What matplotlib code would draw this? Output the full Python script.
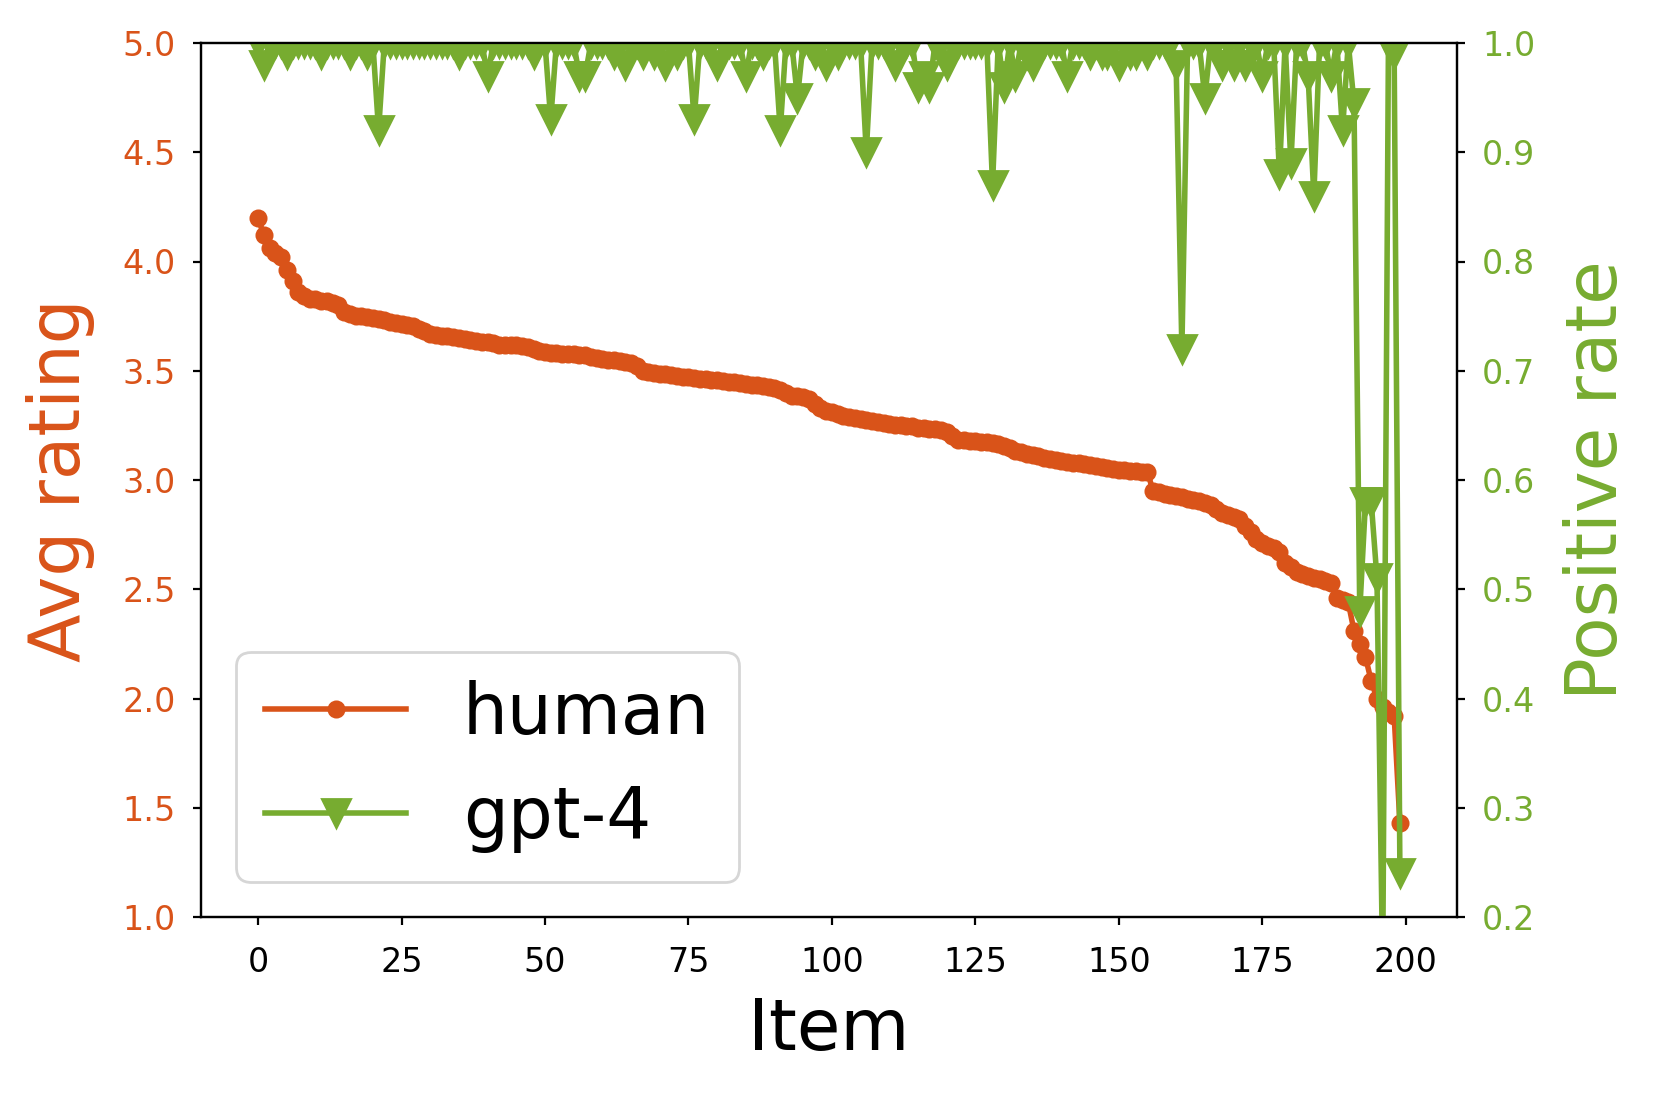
import matplotlib
matplotlib.use("Agg")
import matplotlib.pyplot as plt
import numpy as np

# ---- data ----
human = [
    4.20, 4.12, 4.06, 4.04, 4.02, 3.96, 3.91, 3.86, 3.84, 3.83,
    3.83, 3.82, 3.82, 3.81, 3.80, 3.77, 3.76, 3.75, 3.75, 3.745,
    3.74, 3.735, 3.73, 3.725, 3.72, 3.715, 3.71, 3.705, 3.69, 3.68,
    3.67, 3.665, 3.66, 3.66, 3.655, 3.65, 3.645, 3.64, 3.635, 3.63,
    3.63, 3.625, 3.62, 3.62, 3.62, 3.62, 3.615, 3.61, 3.60, 3.59,
    3.585, 3.58, 3.58, 3.578, 3.576, 3.575, 3.574, 3.57, 3.565, 3.56,
    3.555, 3.55, 3.548, 3.545, 3.54, 3.535, 3.52, 3.50, 3.495, 3.49,
    3.487, 3.485, 3.48, 3.477, 3.473, 3.47, 3.467, 3.464, 3.461, 3.459,
    3.456, 3.453, 3.45, 3.447, 3.445, 3.44, 3.437, 3.433, 3.43, 3.425,
    3.42, 3.41, 3.40, 3.385, 3.383, 3.38, 3.37, 3.35, 3.33, 3.315,
    3.31, 3.30, 3.295, 3.29, 3.285, 3.28, 3.275, 3.27, 3.265, 3.26,
    3.255, 3.252, 3.25, 3.248, 3.245, 3.24, 3.237, 3.235, 3.233, 3.23,
    3.22, 3.20, 3.185, 3.182, 3.18, 3.178, 3.176, 3.174, 3.17, 3.165,
    3.155, 3.145, 3.135, 3.13, 3.12, 3.115, 3.11, 3.10, 3.095, 3.09,
    3.085, 3.082, 3.08, 3.078, 3.075, 3.07, 3.065, 3.06, 3.055, 3.05,
    3.047, 3.044, 3.041, 3.04, 3.038, 3.035, 2.95, 2.945, 2.935, 2.93,
    2.925, 2.92, 2.915, 2.91, 2.905, 2.895, 2.885, 2.865, 2.85, 2.84,
    2.83, 2.82, 2.79, 2.76, 2.73, 2.71, 2.70, 2.69, 2.67, 2.62,
    2.60, 2.58, 2.57, 2.56, 2.55, 2.545, 2.54, 2.53, 2.46, 2.45,
    2.44, 2.31, 2.25, 2.19, 2.08, 2.00, 1.96, 1.94, 1.92, 1.43,
]

gpt4 = [
    1.00, 0.98, 1.00, 1.00, 1.00, 0.99, 1.00, 1.00, 1.00, 1.00,
    1.00, 0.99, 1.00, 1.00, 1.00, 1.00, 0.99, 1.00, 1.00, 0.99,
    1.00, 0.92, 1.00, 1.00, 1.00, 1.00, 1.00, 1.00, 1.00, 1.00,
    1.00, 1.00, 1.00, 1.00, 1.00, 0.99, 1.00, 1.00, 1.00, 1.00,
    0.97, 1.00, 1.00, 1.00, 1.00, 1.00, 1.00, 1.00, 0.99, 1.00,
    1.00, 0.93, 1.00, 1.00, 1.00, 1.00, 0.97, 0.97, 1.00, 1.00,
    1.00, 1.00, 0.99, 1.00, 0.98, 1.00, 1.00, 0.99, 1.00, 0.99,
    1.00, 0.98, 1.00, 0.99, 1.00, 1.00, 0.93, 1.00, 1.00, 1.00,
    0.98, 1.00, 1.00, 1.00, 1.00, 0.97, 1.00, 1.00, 0.99, 1.00,
    1.00, 0.92, 1.00, 1.00, 0.95, 1.00, 1.00, 0.99, 1.00, 0.98,
    1.00, 0.99, 1.00, 1.00, 1.00, 1.00, 0.90, 1.00, 1.00, 1.00,
    1.00, 0.98, 1.00, 1.00, 1.00, 0.96, 0.97, 0.96, 1.00, 1.00,
    0.98, 1.00, 1.00, 1.00, 1.00, 1.00, 1.00, 1.00, 0.87, 1.00,
    0.96, 1.00, 0.97, 1.00, 0.99, 0.98, 1.00, 1.00, 1.00, 1.00,
    1.00, 0.97, 1.00, 1.00, 1.00, 0.99, 1.00, 0.99, 0.99, 1.00,
    0.98, 1.00, 0.99, 0.99, 1.00, 0.99, 1.00, 1.00, 1.00, 1.00,
    0.98, 0.72, 1.00, 1.00, 1.00, 0.95, 1.00, 1.00, 0.98, 1.00,
    0.98, 1.00, 0.98, 1.00, 1.00, 0.97, 1.00, 1.00, 0.88, 1.00,
    0.89, 1.00, 1.00, 0.97, 0.86, 1.00, 1.00, 0.97, 1.00, 0.92,
    1.00, 0.945, 0.48, 0.58, 0.58, 0.51, 0.15, 1.00, 0.99, 0.24,
]

items = np.arange(len(human))
xticks = [0, 25, 50, 75, 100, 125, 150, 175, 200]
left_ticks = [1.0, 1.5, 2.0, 2.5, 3.0, 3.5, 4.0, 4.5, 5.0]
right_ticks = [0.2, 0.3, 0.4, 0.5, 0.6, 0.7, 0.8, 0.9, 1.0]

ORANGE = "#D95319"
GREEN = "#77AC30"

plt.rcParams["font.family"] = ["DejaVu Sans"]

fig = plt.figure(figsize=(1659 / 200, 1096 / 200), dpi=200)
ax1 = fig.add_axes([201 / 1659, 1 - 917 / 1096, (1457 - 201) / 1659, (917 - 43) / 1096])
ax2 = ax1.twinx()

l1, = ax1.plot(items, human, color=ORANGE, marker="o", markersize=5.5, linewidth=2, label="human")
l2, = ax2.plot(items, gpt4, color=GREEN, marker="v", markersize=10, linewidth=2, label="gpt-4")

ax1.set_ylim(1.0, 5.0)
ax2.set_ylim(0.2, 1.0)
ax1.set_xticks(xticks)
ax1.set_yticks(left_ticks)
ax2.set_yticks(right_ticks)
ax1.set_yticklabels([f"{t:.1f}" for t in left_ticks])
ax2.set_yticklabels([f"{t:.1f}" for t in right_ticks])

ax1.tick_params(axis="x", labelsize=12, pad=7.5, length=3)
ax1.tick_params(axis="y", labelsize=12, pad=6, length=3, colors="black", labelcolor=ORANGE)
ax2.tick_params(axis="y", labelsize=12, pad=6, length=3, labelcolor=GREEN)

ax1.set_xlabel("Item", fontsize=25.5, labelpad=6)
ax1.set_ylabel("Avg rating", fontsize=25.5, color=ORANGE, labelpad=10)
ax2.set_ylabel("Positive rate", fontsize=25.5, color=GREEN, labelpad=10)

ax2.legend(handles=[l1, l2], loc="lower left", fontsize=25.5)

fig.savefig("out.png", dpi=200)
